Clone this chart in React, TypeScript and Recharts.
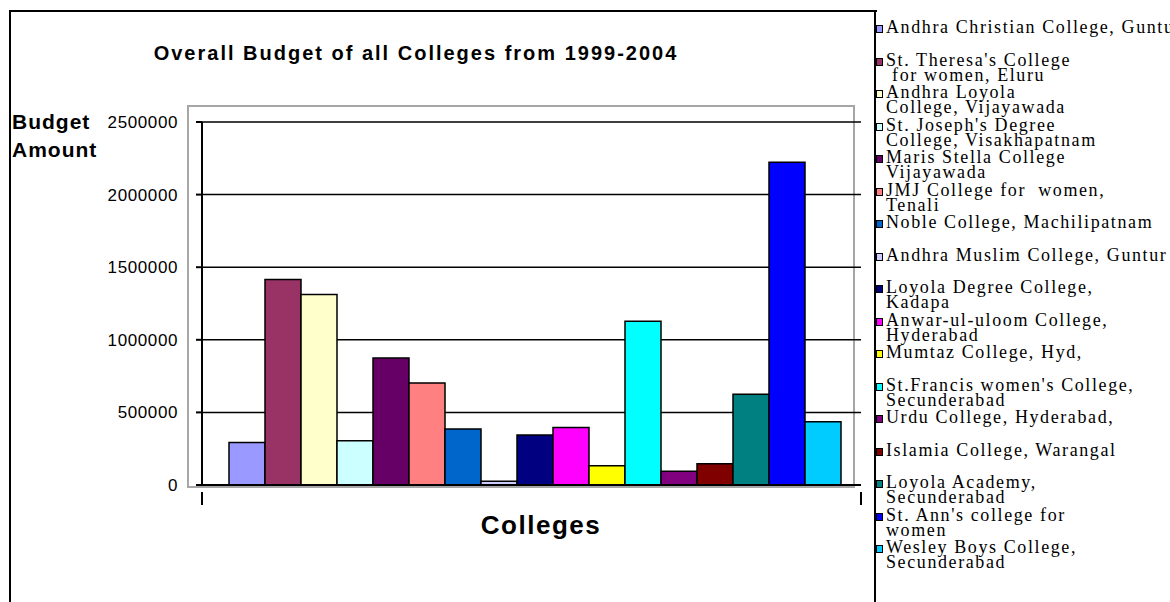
import { BarChart, Bar, XAxis, YAxis, CartesianGrid } from 'recharts';

const colleges = [
  'Andhra Christian College, Guntur',
  "St. Theresa's College\n for women, Eluru",
  'Andhra Loyola\nCollege, Vijayawada',
  "St. Joseph's Degree\nCollege, Visakhapatnam",
  'Maris Stella College\nVijayawada',
  'JMJ College for  women,\nTenali',
  'Noble College, Machilipatnam',
  'Andhra Muslim College, Guntur',
  'Loyola Degree College,\nKadapa',
  'Anwar-ul-uloom College,\nHyderabad',
  'Mumtaz College, Hyd,',
  "St.Francis women's College,\nSecunderabad",
  'Urdu College, Hyderabad,',
  'Islamia College, Warangal',
  'Loyola Academy,\nSecunderabad',
  "St. Ann's college for\nwomen",
  'Wesley Boys College,\nSecunderabad',
];

const budgets = [
  292000, 1415000, 1312000, 305000, 875000, 702000, 385000, 25000, 344000,
  396000, 133000, 1128000, 95000, 146000, 625000, 2222000, 435000,
];

const colors = [
  '#9999FF', '#993366', '#FFFFCC', '#CCFFFF', '#660066', '#FF8080', '#0066CC', '#CCCCFF', '#000080',
  '#FF00FF', '#FFFF00', '#00FFFF', '#800080', '#800000', '#008080', '#0000FF', '#00CCFF',
];

const yTicks = [0, 500000, 1000000, 1500000, 2000000, 2500000];

const data = [
  budgets.reduce<Record<string, number | string>>((row, v, i) => {
    row['c' + i] = v;
    return row;
  }, { name: 'Colleges' }),
];

const sans = '"Liberation Sans", Arial, sans-serif';
const serif = '"Liberation Serif", "Times New Roman", serif';

// draws the category boundary ticks (Excel style) instead of a centre tick
function EdgeTicks(props: any) {
  const { x, y, payload } = props;
  const half = payload && payload.offset ? payload.offset : 0;
  return (
    <g>
      <line x1={x - half} x2={x - half} y1={y - 1} y2={y + 12} stroke="#000" strokeWidth={2} />
      <line x1={x + half} x2={x + half} y1={y - 1} y2={y + 12} stroke="#000" strokeWidth={2} />
    </g>
  );
}

export default function App() {
  return (
    <div style={{ position: 'absolute', left: 0, top: 0, width: 1170, height: 602, background: '#fff', overflow: 'hidden' }}>
      {/* outer frame */}
      <div style={{ position: 'absolute', left: 9, top: 10, width: 866, height: 600, borderLeft: '2px solid #000', borderTop: '2px solid #000' }} />
      <div style={{ position: 'absolute', left: 874, top: 10, height: 600, borderLeft: '2px solid #000' }} />
      {/* plot area frame */}
      <div style={{ position: 'absolute', left: 187, top: 105, width: 664, height: 379, border: '2px solid #a6a6a6' }} />

      <div style={{ position: 'absolute', left: 0, top: 42, width: 832, textAlign: 'center', fontFamily: sans, fontWeight: 700, fontSize: 20, letterSpacing: 2 }}>
        Overall Budget of all Colleges from 1999-2004
      </div>
      <div style={{ position: 'absolute', left: 12, top: 108, fontFamily: sans, fontWeight: 700, fontSize: 21, lineHeight: '28px', letterSpacing: 1 }}>
        Budget
        <br />
        Amount
      </div>
      <div style={{ position: 'absolute', left: 441, top: 510, width: 200, textAlign: 'center', fontFamily: sans, fontWeight: 700, fontSize: 26, letterSpacing: 1.5 }}>
        Colleges
      </div>

      <div style={{ position: 'absolute', left: 0, top: 0 }}>
        <BarChart width={1170} height={602} data={data} margin={{ top: 122, right: 309, bottom: 87, left: 142 }} barGap={0} barCategoryGap={27}>
          <CartesianGrid vertical={false} stroke="#000" strokeWidth={1.5} />
          <XAxis
            dataKey="name"
            height={30}
            axisLine={{ stroke: '#000', strokeWidth: 2 }}
            tickLine={false}
            tick={<EdgeTicks />}
          />
          <YAxis
            width={60}
            domain={[0, 2500000]}
            ticks={yTicks}
            interval={0}
            tickSize={6}
            tickMargin={18}
            axisLine={{ stroke: '#000', strokeWidth: 2 }}
            tickLine={{ stroke: '#000', strokeWidth: 2 }}
            tick={{ fill: '#000', fontFamily: sans, fontSize: 17, letterSpacing: 0.6 }}
          />
          {budgets.map((_, i) => (
            <Bar key={i} dataKey={'c' + i} name={colleges[i]} fill={colors[i]} stroke="#000" strokeWidth={1.5} isAnimationActive={false} />
          ))}
        </BarChart>
      </div>

      {/* legend */}
      <div style={{ position: 'absolute', left: 876, top: 0, width: 294, height: 602 }}>
        {colleges.map((name, i) => (
          <div key={i} style={{ position: 'absolute', left: 0, top: 25 + i * 32.5, width: 294 }}>
            <div style={{ position: 'absolute', left: 0, top: 0, width: 5, height: 6, background: colors[i], border: '1px solid #000' }} />
            <div style={{ position: 'absolute', left: 10, top: -5, whiteSpace: 'pre', fontFamily: serif, fontSize: 18, lineHeight: '15px', letterSpacing: 1.6, color: '#000' }}>
              {name}
            </div>
          </div>
        ))}
      </div>
    </div>
  );
}
